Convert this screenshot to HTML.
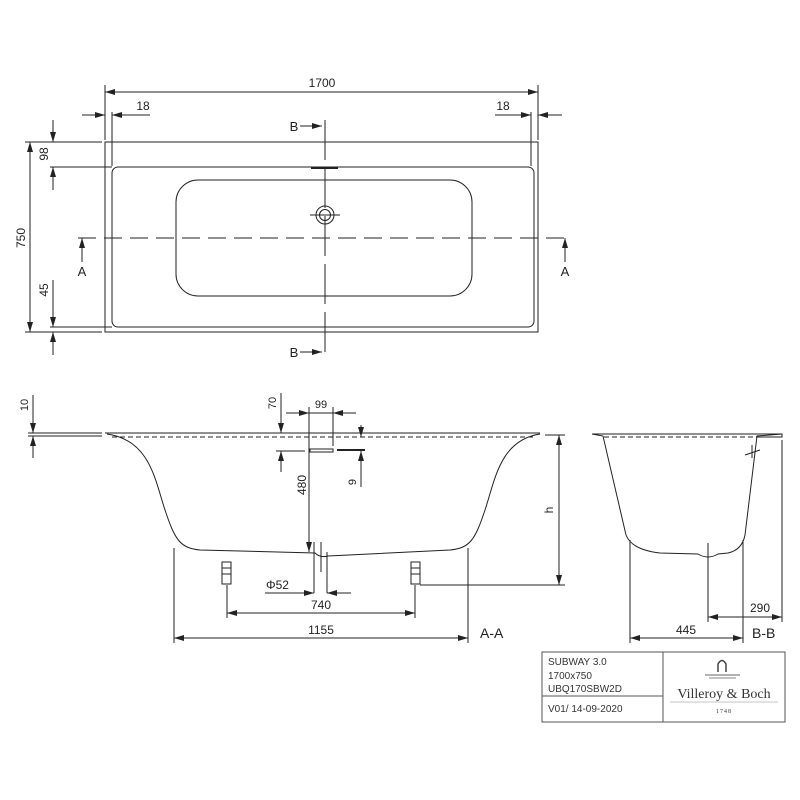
<!DOCTYPE html>
<html><head><meta charset="utf-8"><style>html,body{margin:0;padding:0;background:#fff}svg{display:block}</style></head><body>
<svg width="800" height="800" viewBox="0 0 800 800" xmlns="http://www.w3.org/2000/svg" font-family="Liberation Sans, DejaVu Sans, sans-serif" fill="none" stroke="#222" stroke-width="1">
<defs>
<marker id="a" viewBox="0 0 10 6" refX="10" refY="3" markerWidth="10" markerHeight="6" orient="auto-start-reverse" markerUnits="userSpaceOnUse"><path d="M0,0 L10,3 L0,6 z" fill="#222" stroke="none"/></marker>
</defs>
<!-- TOP VIEW -->
<rect x="105" y="142" width="433" height="190"/>
<rect x="112" y="167" width="422" height="160" rx="6"/>
<rect x="176" y="180" width="296" height="116" rx="22"/>
<circle cx="325" cy="215" r="9"/><circle cx="325" cy="215" r="5.5"/>
<line x1="310" y1="215" x2="340" y2="215"/>
<line x1="311" y1="168" x2="338" y2="168" stroke-width="2"/>
<line x1="78" y1="238" x2="572" y2="238" stroke-dasharray="18,8"/>
<line x1="325" y1="120" x2="325" y2="357" stroke-dasharray="40,8"/>
<!-- 1700 -->
<line x1="105" y1="85" x2="105" y2="140"/><line x1="538" y1="85" x2="538" y2="140"/>
<line x1="105" y1="92" x2="538" y2="92" marker-start="url(#a)" marker-end="url(#a)"/>
<text x="322" y="87" font-size="12" fill="#222" stroke="none" text-anchor="middle">1700</text>
<!-- 18 -->
<line x1="112" y1="112" x2="112" y2="166"/><line x1="531" y1="112" x2="531" y2="166"/>
<line x1="82" y1="115" x2="105" y2="115" marker-end="url(#a)"/><line x1="136" y1="115" x2="112" y2="115" marker-end="url(#a)"/><line x1="112" y1="115" x2="150" y2="115"/>
<line x1="495" y1="115" x2="531" y2="115" marker-end="url(#a)"/><line x1="562" y1="115" x2="538" y2="115" marker-end="url(#a)"/>
<text x="143" y="110" font-size="12" fill="#222" stroke="none" text-anchor="middle">18</text>
<text x="503" y="110" font-size="12" fill="#222" stroke="none" text-anchor="middle">18</text>
<!-- 750 -->
<line x1="25" y1="142" x2="102" y2="142"/><line x1="25" y1="332" x2="102" y2="332"/>
<line x1="30" y1="142" x2="30" y2="332" marker-start="url(#a)" marker-end="url(#a)"/>
<text transform="translate(25,238) rotate(-90)" font-size="12" fill="#222" stroke="none" text-anchor="middle">750</text>
<line x1="50" y1="167" x2="112" y2="167"/><line x1="50" y1="327" x2="112" y2="327"/>
<line x1="53" y1="120" x2="53" y2="142" marker-end="url(#a)"/><line x1="53" y1="190" x2="53" y2="167" marker-end="url(#a)"/>
<text transform="translate(48,154) rotate(-90)" font-size="12" fill="#222" stroke="none" text-anchor="middle">98</text>
<line x1="53" y1="280" x2="53" y2="327" marker-end="url(#a)"/><line x1="53" y1="355" x2="53" y2="332" marker-end="url(#a)"/>
<text transform="translate(48,290) rotate(-90)" font-size="12" fill="#222" stroke="none" text-anchor="middle">45</text>
<!-- section markers -->
<line x1="82" y1="262" x2="82" y2="238" marker-end="url(#a)"/><text x="82" y="276" font-size="13" fill="#222" stroke="none" text-anchor="middle">A</text>
<line x1="565" y1="262" x2="565" y2="238" marker-end="url(#a)"/><text x="565" y="276" font-size="13" fill="#222" stroke="none" text-anchor="middle">A</text>
<line x1="300" y1="126" x2="322" y2="126" marker-end="url(#a)"/><text x="294" y="131" font-size="13" fill="#222" stroke="none" text-anchor="middle">B</text>
<line x1="300" y1="352" x2="322" y2="352" marker-end="url(#a)"/><text x="294" y="357" font-size="13" fill="#222" stroke="none" text-anchor="middle">B</text>
<!-- SECTION A-A -->
<line x1="28" y1="433" x2="102" y2="433"/><line x1="28" y1="436" x2="102" y2="436"/>
<line x1="105" y1="433" x2="540" y2="433"/>
<line x1="112" y1="437" x2="535" y2="437" stroke-dasharray="5,3"/>
<path d="M107,434 C150,440 155,480 165,510 C175,540 180,548 200,550 L315,553 Q320,558 328,556 L450,550 C470,548 475,540 485,510 C495,480 500,440 540,434"/>
<rect x="222" y="562" width="9" height="22" fill="#fff"/><line x1="222" y1="568" x2="231" y2="568"/><line x1="222" y1="574" x2="231" y2="574"/>
<rect x="411" y="562" width="9" height="22" fill="#fff"/><line x1="411" y1="568" x2="420" y2="568"/><line x1="411" y1="574" x2="420" y2="574"/>
<!-- 10 -->
<line x1="33" y1="395" x2="33" y2="433" marker-end="url(#a)"/><line x1="33" y1="458" x2="33" y2="436" marker-end="url(#a)"/>
<text transform="translate(28,405) rotate(-90)" font-size="11" fill="#222" stroke="none" text-anchor="middle">10</text>
<!-- 70 / 99 / 9 -->
<line x1="281" y1="393" x2="281" y2="433" marker-end="url(#a)"/><line x1="281" y1="472" x2="281" y2="451" marker-end="url(#a)"/>
<line x1="276" y1="451" x2="305" y2="451"/>
<text transform="translate(276,403) rotate(-90)" font-size="11" fill="#222" stroke="none" text-anchor="middle">70</text>
<line x1="309" y1="407" x2="309" y2="552"/><line x1="333" y1="407" x2="333" y2="446"/>
<line x1="286" y1="413" x2="309" y2="413" marker-end="url(#a)"/><line x1="356" y1="413" x2="333" y2="413" marker-end="url(#a)"/><line x1="309" y1="413" x2="333" y2="413"/>
<text x="321" y="408" font-size="11" fill="#222" stroke="none" text-anchor="middle">99</text>
<rect x="310" y="449" width="23" height="3" fill="#fff"/><line x1="337" y1="450" x2="365" y2="450" stroke-width="2"/>
<line x1="361" y1="425" x2="361" y2="437" marker-end="url(#a)"/><line x1="361" y1="487" x2="361" y2="451" marker-end="url(#a)"/>
<text transform="translate(356,482) rotate(-90)" font-size="11" fill="#222" stroke="none" text-anchor="middle">9</text>
<line x1="309" y1="530" x2="309" y2="552" marker-end="url(#a)"/>
<text transform="translate(306,485) rotate(-90)" font-size="12" fill="#222" stroke="none" text-anchor="middle">480</text>
<line x1="314" y1="542" x2="314" y2="593"/><line x1="327" y1="552" x2="327" y2="593"/><line x1="321" y1="542" x2="321" y2="572"/>
<line x1="265" y1="593" x2="314" y2="593" marker-end="url(#a)"/><line x1="351" y1="593" x2="327" y2="593" marker-end="url(#a)"/>
<text x="266" y="589" font-size="12" fill="#222" stroke="none">Φ52</text>
<!-- 740 / 1155 / h -->
<line x1="227" y1="585" x2="227" y2="618"/><line x1="415" y1="585" x2="415" y2="618"/>
<line x1="227" y1="613" x2="415" y2="613" marker-start="url(#a)" marker-end="url(#a)"/>
<text x="321" y="609" font-size="12" fill="#222" stroke="none" text-anchor="middle">740</text>
<line x1="174" y1="548" x2="174" y2="643"/><line x1="468" y1="548" x2="468" y2="643"/>
<line x1="174" y1="638" x2="468" y2="638" marker-start="url(#a)" marker-end="url(#a)"/>
<text x="321" y="634" font-size="12" fill="#222" stroke="none" text-anchor="middle">1155</text>
<text x="480" y="638" font-size="14" fill="#222" stroke="none">A-A</text>
<line x1="545" y1="435" x2="565" y2="435"/><line x1="420" y1="585" x2="565" y2="585"/>
<line x1="559" y1="435" x2="559" y2="585" marker-start="url(#a)" marker-end="url(#a)"/>
<text transform="translate(553,510) rotate(-90)" font-size="12" fill="#222" stroke="none" text-anchor="middle">h</text>
<!-- SECTION B-B -->
<line x1="592" y1="434" x2="782" y2="434"/>
<line x1="604" y1="437" x2="760" y2="437" stroke-dasharray="5,3"/>
<path d="M592,434 L603,436 L626,535 Q632,550 660,553 L698,554 Q708,560 718,554 L728,553 Q742,550 745,535 L757,436 L782,434 L782,437 L757,437"/>
<line x1="745" y1="455" x2="760" y2="450"/><line x1="752" y1="445" x2="752" y2="458"/>
<line x1="630" y1="540" x2="630" y2="643"/><line x1="743" y1="540" x2="743" y2="643"/>
<line x1="708" y1="543" x2="708" y2="622"/><line x1="782" y1="440" x2="782" y2="622"/>
<line x1="708" y1="617" x2="782" y2="617" marker-start="url(#a)" marker-end="url(#a)"/>
<text x="760" y="612" font-size="12" fill="#222" stroke="none" text-anchor="middle">290</text>
<line x1="630" y1="638" x2="743" y2="638" marker-start="url(#a)" marker-end="url(#a)"/>
<text x="686" y="634" font-size="12" fill="#222" stroke="none" text-anchor="middle">445</text>
<text x="752" y="638" font-size="14" fill="#222" stroke="none">B-B</text>
<!-- TITLE BLOCK -->
<rect x="542" y="652" width="243" height="70" stroke="#555"/>
<line x1="663" y1="652" x2="663" y2="722" stroke="#555"/>
<line x1="542" y1="696" x2="663" y2="696" stroke="#555"/>
<g fill="#333" stroke="none" font-size="10">
<text x="548" y="665">SUBWAY 3.0</text><text x="548" y="679">1700x750</text><text x="548" y="692">UBQ170SBW2D</text>
<text x="548" y="712">V01/ 14-09-2020</text>
<text x="724" y="698" font-family="Liberation Serif, serif" font-size="14" text-anchor="middle">Villeroy &amp; Boch</text>
<text x="724" y="713" font-family="Liberation Serif, serif" font-size="6" text-anchor="middle" letter-spacing="1">1748</text>
</g>
<path d="M718,672 L718,664 Q722,657 726,664 L726,672" stroke="#444" stroke-width="1.5"/>
<line x1="705" y1="675" x2="740" y2="675" stroke="#666"/><line x1="709" y1="678" x2="736" y2="678" stroke="#888"/>
<line x1="670" y1="702" x2="778" y2="702" stroke="#888" stroke-width="0.5"/>
</svg>
</body></html>
